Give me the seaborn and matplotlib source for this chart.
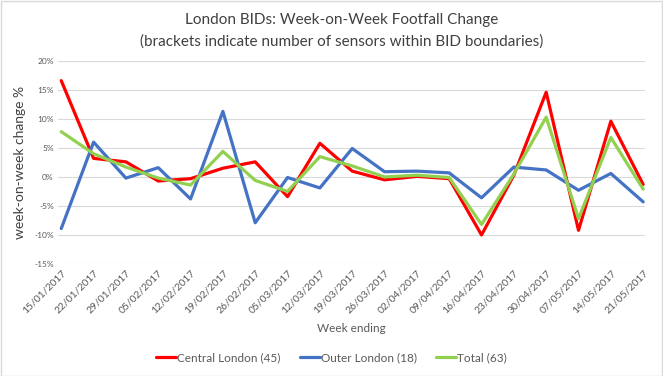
import matplotlib
matplotlib.use("Agg")
import matplotlib.pyplot as plt
import seaborn as sns
import pandas as pd
import numpy as np

weeks = ["15/01/2017", "22/01/2017", "29/01/2017", "05/02/2017", "12/02/2017",
         "19/02/2017", "26/02/2017", "05/03/2017", "12/03/2017", "19/03/2017",
         "26/03/2017", "02/04/2017", "09/04/2017", "16/04/2017", "23/04/2017",
         "30/04/2017", "07/05/2017", "14/05/2017", "21/05/2017"]
central = [16.6, 3.2, 2.6, -0.7, -0.3, 1.5, 2.6, -3.4, 5.8, 1.0, -0.5, 0.1,
           -0.3, -10.0, 0.3, 14.6, -9.2, 9.6, -1.3]
outer = [-8.9, 6.0, -0.2, 1.6, -3.8, 11.3, -7.9, -0.1, -1.9, 4.9, 0.9, 1.0,
         0.7, -3.6, 1.7, 1.2, -2.3, 0.6, -4.3]
total = [7.8, 4.0, 1.7, -0.2, -1.4, 4.4, -0.6, -2.5, 3.5, 1.9, 0.0, 0.3,
         -0.1, -8.2, 0.5, 10.3, -7.2, 6.8, -2.1]
series_names = ["Central London (45)", "Outer London (18)", "Total (63)"]
yticks = [-15, -10, -5, 0, 5, 10, 15, 20]

sns.set_style("white")
plt.rcParams['font.family'] = ['Lato', 'DejaVu Sans']

rows = []
for name, vals in zip(series_names, [central, outer, total]):
    for i, v in enumerate(vals):
        rows.append({"idx": i, "week": weeks[i], "value": v, "series": name})
df = pd.DataFrame(rows)

fig = plt.figure(figsize=(6.63, 3.76), dpi=100)
ax = fig.add_axes([0.0875, 0.298, 0.886, 0.540])

palette = {"Central London (45)": "#FF0000", "Outer London (18)": "#4472C4",
           "Total (63)": "#92D050"}
sns.lineplot(data=df, x="idx", y="value", hue="series", palette=palette,
             linewidth=2.3, sort=False, ax=ax, legend=False)

ax.set_xlim(-0.1, 18.07)
ax.set_ylim(-15, 20)
ax.set_yticks(yticks)
ax.set_yticklabels([f"{t}%" for t in yticks], fontsize=6, color="#595959")
ax.set_xticks(range(len(weeks)))
ax.set_xticklabels(weeks, rotation=45, ha="right", rotation_mode="anchor",
                   fontsize=7.5, color="#595959")
ax.tick_params(axis="both", length=0, pad=3)
ax.grid(axis="y", color="#D9D9D9", linewidth=0.8)
ax.set_axisbelow(True)
for s in ax.spines.values():
    s.set_visible(False)

ax.set_ylabel("week-on-week change %", fontsize=10, color="#404040", labelpad=6)
ax.set_xlabel("Week ending", fontsize=8.5, color="#595959", labelpad=6)

fig.text(0.515, 0.948, "London BIDs: Week-on-Week Footfall Change",
         ha="center", va="center", fontsize=11, color="#404040")
fig.text(0.515, 0.89, "(brackets indicate number of sensors within BID boundaries)",
         ha="center", va="center", fontsize=11, color="#404040")

from matplotlib.lines import Line2D
handles = [Line2D([0], [0], color=palette[n], linewidth=2.3) for n in series_names]
leg = fig.legend(handles, series_names, loc="center", bbox_to_anchor=(0.5, 0.048),
                 ncol=3, frameon=False, fontsize=8.5, handlelength=1.7,
                 handletextpad=0.1, columnspacing=1.6)
for t in leg.get_texts():
    t.set_color("#595959")

border = plt.Rectangle((0.001, 0.001), 0.997, 0.997, transform=fig.transFigure,
                       fill=False, edgecolor="#D9D9D9", linewidth=1)
fig.patches.append(border)

fig.savefig("out.png", dpi=100)
